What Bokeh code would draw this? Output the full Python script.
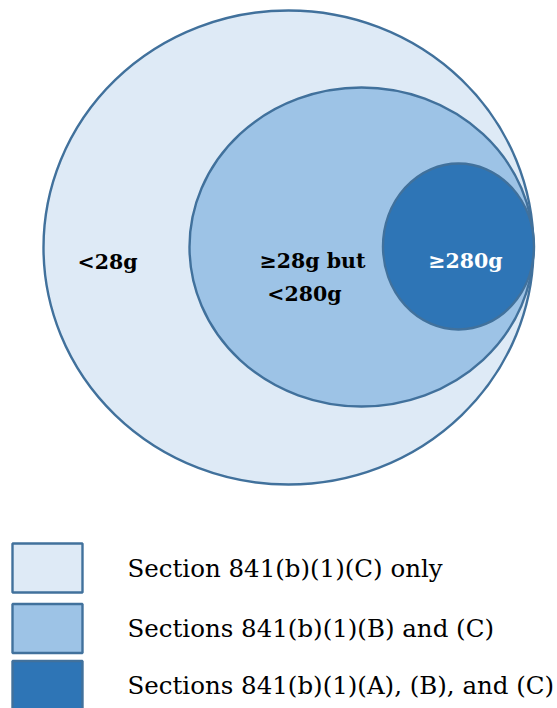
from bokeh.plotting import figure
from bokeh.models import Range1d
from bokeh.core.properties import value
from bokeh.embed import file_html
from bokeh.resources import INLINE

# Nested sets (outer to inner)
regions = ["<28g", "≥28g but<280g", "≥280g"]
centers_x = [288, 361, 458]
centers_y = [247, 246.5, 246]
widths = [490, 344, 151]
heights = [474, 319, 166]
fills = ["#DEEAF6", "#9DC3E6", "#2E75B6"]

label_texts = ["<28g", "≥28g but", "<280g", "≥280g"]
label_x = [107, 312, 304, 465]
label_y = [261, 260, 293, 260]
label_colors = ["#000000", "#000000", "#000000", "#FFFFFF"]

legend_labels = ["Section 841(b)(1)(C) only",
                 "Sections 841(b)(1)(B) and (C)",
                 "Sections 841(b)(1)(A), (B), and (C)"]
legend_y = [568, 628, 685]
sq_y = [567.5, 628, 685]

p = figure(width=557, height=708, output_backend="svg", toolbar_location=None,
           x_range=Range1d(0, 557), y_range=Range1d(708, 0),
           min_border=0, outline_line_color=None)
p.axis.visible = False
p.grid.visible = False
p.background_fill_color = "white"

p.ellipse(x=centers_x, y=centers_y, width=widths, height=heights,
          fill_color=fills, line_color="#41719C", line_width=2.4)

p.text(x=label_x, y=label_y, text=label_texts, text_color=label_colors,
       text_font=value("DejaVu Serif"), text_font_style="bold",
       text_font_size="20.5px", text_align="center", text_baseline="middle")

p.rect(x=[47, 47, 47], y=sq_y, width=70, height=[49, 49, 49],
       fill_color=fills, line_color="#41719C", line_width=2.4)

p.text(x=[127] * 3, y=legend_y, text=legend_labels, text_color="#000000",
       text_font=value("DejaVu Serif"), text_font_size="24.5px",
       text_align="left", text_baseline="middle")

open("out.html", "w").write(file_html(p, INLINE))
